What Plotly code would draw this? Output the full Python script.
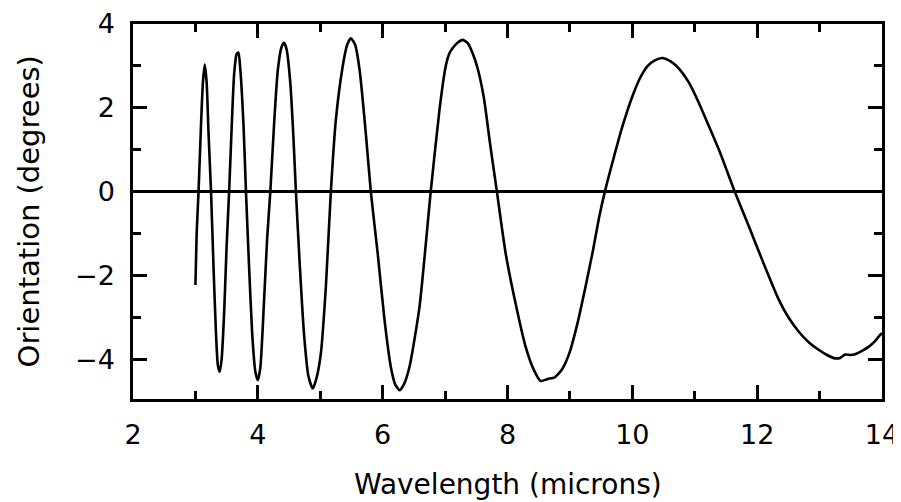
import plotly.graph_objects as go

# Wavelength (microns) and orientation (degrees)
wavelength = [
    3.00, 3.02, 3.05, 3.09, 3.12, 3.15, 3.18, 3.21, 3.25, 3.29, 3.33, 3.36, 3.39, 3.42,
    3.46, 3.50, 3.54, 3.58, 3.62, 3.66, 3.69, 3.72, 3.77, 3.81, 3.86, 3.91, 3.96, 4.00,
    4.04, 4.10, 4.15, 4.20, 4.26, 4.32, 4.38, 4.42, 4.46, 4.52, 4.57, 4.61, 4.67, 4.74,
    4.81, 4.88, 4.94, 5.01, 5.09, 5.17, 5.25, 5.36, 5.43, 5.49, 5.56, 5.63, 5.73, 5.81,
    5.92, 6.03, 6.13, 6.20, 6.27, 6.34, 6.43, 6.59, 6.77, 6.91, 7.01, 7.07, 7.12, 7.20,
    7.28, 7.36, 7.44, 7.52, 7.62, 7.72, 7.83, 7.97, 8.13, 8.29, 8.42, 8.53, 8.65, 8.75, 8.87,
    8.99, 9.12, 9.25, 9.37, 9.47, 9.56, 9.70, 9.84, 10.00, 10.12, 10.24, 10.36, 10.48, 10.62,
    10.75, 10.90, 11.05, 11.23, 11.40, 11.52, 11.64, 11.87, 12.08, 12.35, 12.50, 12.67, 12.83, 12.99, 13.12, 13.25,
    13.33, 13.41, 13.49, 13.57, 13.68, 13.79, 13.88, 13.97, 14.00,
]
orientation = [
    -2.23, -1.00, 0.00, 1.60, 2.60, 3.03, 2.60, 1.40, 0.00, -1.80, -3.40, -4.15, -4.30, -4.00,
    -2.90, -1.30, 0.00, 1.50, 2.80, 3.28, 3.32, 2.90, 1.60, 0.00, -1.80, -3.40, -4.30, -4.50,
    -4.20, -2.60, -1.10, 0.00, 1.60, 2.90, 3.45, 3.55, 3.40, 2.60, 1.30, 0.00, -1.70, -3.40,
    -4.40, -4.70, -4.45, -3.86, -2.27, 0.00, 1.71, 2.99, 3.50, 3.66, 3.50, 2.91, 1.39, 0.00,
    -1.47, -3.07, -4.18, -4.60, -4.74, -4.60, -4.18, -2.75, 0.00, 1.95, 2.99, 3.30, 3.42, 3.55,
    3.62, 3.55, 3.31, 2.95, 2.25, 1.15, 0.00, -1.47, -2.67, -3.70, -4.25, -4.52, -4.47, -4.44, -4.25,
    -3.86, -3.15, -2.27, -1.40, -0.60, 0.00, 0.80, 1.55, 2.27, 2.70, 2.99, 3.13, 3.19, 3.10,
    2.93, 2.62, 2.17, 1.55, 0.95, 0.48, 0.00, -0.84, -1.63, -2.59, -3.00, -3.35, -3.60, -3.78, -3.90, -3.98,
    -3.97, -3.89, -3.90, -3.88, -3.80, -3.70, -3.58, -3.42, -3.38,
]

x_ticks = [2, 4, 6, 8, 10, 12, 14]
y_ticks = [-4, -2, 0, 2, 4]

FONT = "DejaVu Sans"

fig = go.Figure()
fig.add_trace(go.Scatter(
    x=wavelength, y=orientation, mode="lines",
    line=dict(color="black", width=2.6, shape="spline", smoothing=0.6),
    showlegend=False, hoverinfo="skip",
))

axis_common = dict(
    showline=True, linecolor="black", linewidth=2.5, mirror="ticks",
    ticks="inside", ticklen=14, tickwidth=2.5, tickcolor="black",
    showgrid=False, automargin=False,
    tickfont=dict(family=FONT, size=27, color="black"),
)

fig.update_xaxes(
    range=[2, 14], tickvals=x_ticks, zeroline=False,
    minor=dict(ticks="inside", ticklen=8, tickwidth=2.5, tickcolor="black", dtick=1, showgrid=False),
    ticklabelstandoff=10,
    **axis_common,
)
fig.update_yaxes(
    range=[-4.95, 4], tickvals=y_ticks,
    zeroline=True, zerolinecolor="black", zerolinewidth=2.5,
    minor=dict(ticks="inside", ticklen=8, tickwidth=2.5, tickcolor="black", dtick=1, showgrid=False),
    ticklabelstandoff=10,
    **axis_common,
)

# the page body adds an 8 px margin, so the figure is 8 px smaller than the window
fig.update_layout(
    width=893, height=494,
    margin=dict(l=125, r=19, t=16, b=103),
    paper_bgcolor="white", plot_bgcolor="white",
    annotations=[
        dict(text="Wavelength (microns)", xref="paper", yref="paper",
             x=0.5, y=-0.229, xanchor="center", yanchor="middle", showarrow=False,
             font=dict(family=FONT, size=28, color="black")),
        dict(text="Orientation (degrees)", xref="paper", yref="paper",
             x=-0.139, y=0.5, xanchor="center", yanchor="middle", showarrow=False,
             textangle=-90, font=dict(family=FONT, size=29, color="black")),
    ],
)

fig.write_html("out.html")
